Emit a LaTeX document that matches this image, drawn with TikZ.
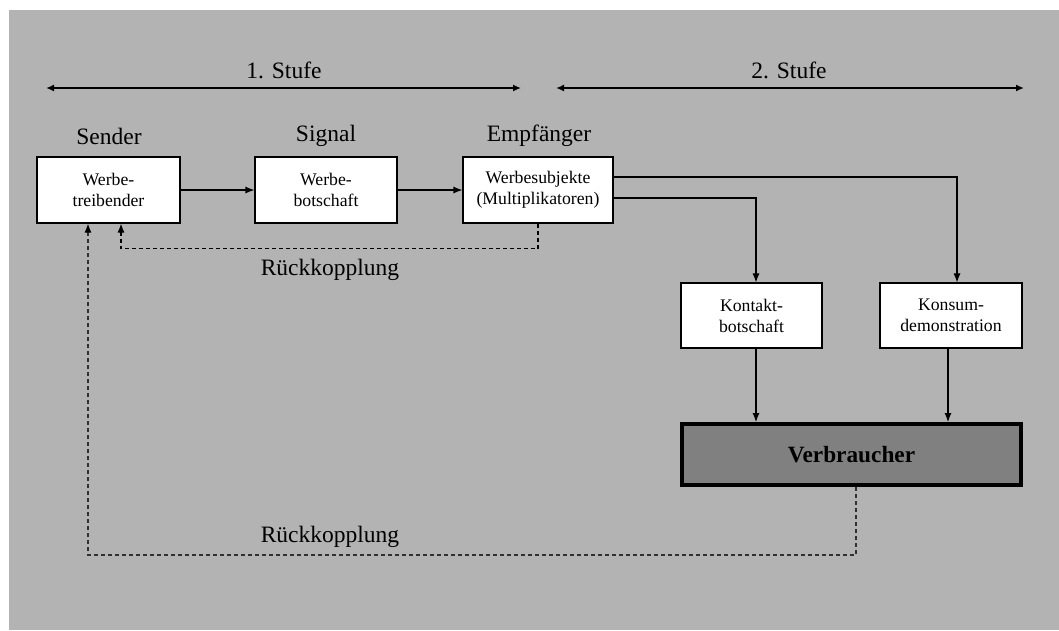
\documentclass[tikz,border=0pt]{standalone}
\usepackage{fontspec}
\setmainfont{Liberation Serif}
\usetikzlibrary{arrows.meta}
\definecolor{panel}{HTML}{B3B3B3}
\definecolor{consumer}{HTML}{808080}
\definecolor{fbgray}{HTML}{303030}
\tikzset{
  box/.style={draw=black, line width=1.1pt, fill=white, minimum width=142pt,
    minimum height=65pt, align=center, inner sep=2pt,
    font=\fontsize{17.7}{21}\selectfont},
  bigbox/.style={draw=black, line width=4pt, fill=consumer, minimum width=339pt,
    minimum height=61pt, font=\fontsize{23.3}{27}\selectfont\bfseries},
  heading/.style={font=\fontsize{23.5}{27}\selectfont, inner sep=0pt},
  tip/.style={-{Latex[length=9pt,width=7pt,color=black]}},
  flow/.style={line width=1.1pt, tip},
  feedback/.style={line width=1.1pt, dash pattern=on 4pt off 3pt, tip},
  stage/.style={line width=2.2pt, {Latex[length=8pt,width=7pt]}-{Latex[length=8pt,width=7pt]}}
}
\begin{document}
\begin{tikzpicture}[x=1pt,y=-1pt]
  % page and grey panel
  \fill[white] (0,0) rectangle (1059,630);
  \fill[panel] (9,10) rectangle (1059,630);
  \useasboundingbox (0,0) rectangle (1059,630);

  % stage markers
  \coordinate (s1a) at (46,88);
  \coordinate (s1b) at (521,88);
  \coordinate (s2a) at (556,88);
  \coordinate (s2b) at (1024,88);
  \draw[stage] (s1a) -- (s1b);
  \draw[stage] (s2a) -- (s2b);
  \node[heading] (st1) at (284,70) {1. Stufe};
  \node[heading] (st2) at (789,70) {2. Stufe};

  % first row: sender, signal, receiver
  \node[box, minimum width=143pt, minimum height=66pt] (send) at (108.5,190) {Werbe-\\treibender};
  \node[box, minimum height=66pt] (sig) at (326,190) {Werbe-\\botschaft};
  \node[box, minimum width=150pt, minimum height=66pt] (emp) at (538,190) {Werbesubjekte\\(Multiplikatoren)};
  \node[heading] (lsend) at (109,136) {Sender};
  \node[heading] (lsig) at (326,136) {Signal};
  \node[heading] (lemp) at (539,136) {Empfänger};

  % second row
  \node[box, minimum width=141pt] (kon) at (751.5,315.5) {Kontakt-\\botschaft};
  \node[box] (kd) at (951,315.5) {Konsum-\\demonstration};
  \node[bigbox] (verb) at (851.5,454.5) {Verbraucher};

  % main flow
  \draw[flow] (send.east) -- (sig.west);
  \draw[flow] (sig.east) -- (emp.west);
  \draw[flow] ([yshift=13pt]emp.east) -| ([xshift=6pt]kd.north);
  \draw[flow] ([yshift=-8pt]emp.east) -| ([xshift=4.5pt]kon.north);
  \draw[flow] ([xshift=4.5pt]kon.south) -- ([xshift=4.5pt]kon.south |- verb.north);
  \draw[flow] ([xshift=-3pt]kd.south) -- ([xshift=-3pt]kd.south |- verb.north);

  % feedback loops
  \draw[feedback] (emp.south) -- ++(0,25) -| ([xshift=12.5pt]send.south);
  \node[heading] (fb1) at (330,270) {Rückkopplung};
  \draw[feedback, draw=fbgray] ([xshift=4.5pt]verb.south) -- ++(0,68) -| ([xshift=-20.5pt]send.south);
  \node[heading] (fb2) at (330,537) {Rückkopplung};
\end{tikzpicture}
\end{document}
